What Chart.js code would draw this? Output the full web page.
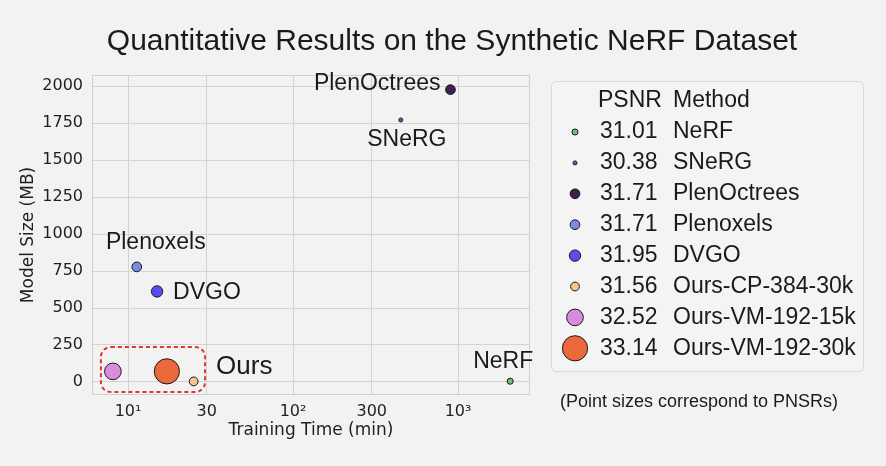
<!DOCTYPE html>
<html>
<head>
<meta charset="utf-8">
<script src="https://cdn.jsdelivr.net/npm/chart.js@4.4.1/dist/chart.umd.min.js"></script>
<style>
  html, body { margin: 0; padding: 0; background: #f2f2f2; }
</style>
</head>
<body>
<canvas id="myChart" width="886" height="466"></canvas>
<script>
// data
const methods = ['NeRF', 'SNeRG', 'PlenOctrees', 'Plenoxels', 'DVGO', 'Ours-CP-384-30k', 'Ours-VM-192-15k', 'Ours-VM-192-30k'];
const trainTime = [2070, 450, 900, 11.3, 15, 25, 8.1, 17.2];   // minutes
const modelSize = [5, 1771, 1976, 778, 612, 3.9, 71.8, 71.8];   // MB
const psnr = [31.01, 30.38, 31.71, 31.71, 31.95, 31.56, 32.52, 33.14];
const xTicks = [10, 30, 100, 300, 1000];
const xTickLabels = ['10¹', '30', '10²', '300', '10³'];
const yTicks = [0, 250, 500, 750, 1000, 1250, 1500, 1750, 2000];

const colors = ['#6cc07c', '#7b52ae', '#3f1f4e', '#7b8be4', '#5b4cf0', '#f7c48f', '#d98bdc', '#eb6a3d'];
const radiusFor = p => 2 * Math.exp(0.667 * (p - 30.38));   // point sizes follow PSNR
const sansFont = "'Liberation Sans', Arial, sans-serif";
const textColor = '#1a1a1a';

// text placement next to each point (pixel offsets)
const labelOffsets = {
  'Plenoxels':   { dx: 19, dy: -24, align: 'center' },
  'DVGO':        { dx: 16, dy: 1, align: 'left' },
  'PlenOctrees': { dx: -10, dy: -6, align: 'right' },
  'SNeRG':       { dx: 6, dy: 20, align: 'center' },
  'NeRF':        { dx: -7, dy: -20, align: 'center' }
};
const oursBox = { xMin: 6.85, xMax: 29.3, yMin: -68, yMax: 236 };

function roundRect(ctx, x, y, w, h, r) {
  ctx.beginPath();
  ctx.moveTo(x + r, y);
  ctx.lineTo(x + w - r, y);
  ctx.arcTo(x + w, y, x + w, y + r, r);
  ctx.lineTo(x + w, y + h - r);
  ctx.arcTo(x + w, y + h, x + w - r, y + h, r);
  ctx.lineTo(x + r, y + h);
  ctx.arcTo(x, y + h, x, y + h - r, r);
  ctx.lineTo(x, y + r);
  ctx.arcTo(x, y, x + r, y, r);
  ctx.closePath();
}

const extras = {
  id: 'extras',
  beforeDraw(chart) {
    const ctx = chart.ctx;
    ctx.save();
    ctx.fillStyle = '#f2f2f2';
    ctx.fillRect(0, 0, chart.width, chart.height);
    ctx.restore();
  },
  beforeDatasetsDraw(chart) {
    const { ctx, chartArea: a, scales: { x, y } } = chart;
    ctx.save();
    ctx.strokeStyle = '#d0d0d0';
    ctx.lineWidth = 1;
    ctx.strokeRect(a.left + 0.5, a.top + 0.5, a.width - 1, a.height - 1);
    // dashed box round our methods
    const bx0 = x.getPixelForValue(oursBox.xMin), bx1 = x.getPixelForValue(oursBox.xMax);
    const by0 = y.getPixelForValue(oursBox.yMax), by1 = y.getPixelForValue(oursBox.yMin);
    ctx.strokeStyle = '#e0352f';
    ctx.lineWidth = 2;
    ctx.setLineDash([4, 3]);
    roundRect(ctx, bx0, by0, bx1 - bx0, by1 - by0, 10);
    ctx.stroke();
    ctx.restore();
  },
  afterDraw(chart) {
    const { ctx, scales: { x, y } } = chart;
    ctx.save();
    ctx.fillStyle = textColor;
    ctx.textBaseline = 'middle';

    // title
    ctx.font = '30px ' + sansFont;
    ctx.textAlign = 'center';
    ctx.fillText('Quantitative Results on the Synthetic NeRF Dataset', 452, 42);

    // point labels
    ctx.font = '23px ' + sansFont;
    methods.forEach((m, i) => {
      const o = labelOffsets[m];
      if (!o) return;
      ctx.textAlign = o.align;
      ctx.fillText(m, x.getPixelForValue(trainTime[i]) + o.dx, y.getPixelForValue(modelSize[i]) + o.dy);
    });
    const bx1 = x.getPixelForValue(oursBox.xMax);
    const byMid = (y.getPixelForValue(oursBox.yMax) + y.getPixelForValue(oursBox.yMin)) / 2;
    ctx.font = '26px ' + sansFont;
    ctx.textAlign = 'left';
    ctx.fillText('Ours', bx1 + 11, byMid - 3);

    // legend table
    ctx.fillStyle = '#f4f4f4';
    ctx.strokeStyle = '#d8d8d8';
    ctx.lineWidth = 1;
    roundRect(ctx, 551.5, 81.5, 312, 290, 5);
    ctx.fill();
    ctx.stroke();
    ctx.fillStyle = textColor;
    ctx.font = '23px ' + sansFont;
    ctx.textAlign = 'left';
    ctx.fillText('PSNR', 598, 101);
    ctx.fillText('Method', 673, 101);
    methods.forEach((m, i) => {
      const ry = 132 + 30.9 * i;
      ctx.beginPath();
      ctx.arc(575, ry, radiusFor(psnr[i]), 0, Math.PI * 2);
      ctx.fillStyle = colors[i];
      ctx.fill();
      ctx.strokeStyle = '#1a1a1a';
      ctx.lineWidth = 1;
      ctx.stroke();
      ctx.fillStyle = textColor;
      ctx.fillText(psnr[i].toFixed(2), 600, ry);
      ctx.fillText(m, 673, ry);
    });

    // caption
    ctx.font = '18px ' + sansFont;
    ctx.textAlign = 'center';
    ctx.fillText('(Point sizes correspond to PNSRs)', 699, 402);
    ctx.restore();
  }
};

const ctx = document.getElementById('myChart').getContext('2d');
const myChart = new Chart(ctx, {
  type: 'scatter',
  data: {
    datasets: [{
      data: trainTime.map((t, i) => ({ x: t, y: modelSize[i] })),
      backgroundColor: colors,
      borderColor: '#1a1a1a',
      borderWidth: 1,
      pointRadius: psnr.map(radiusFor),
      pointHoverRadius: psnr.map(radiusFor)
    }]
  },
  options: {
    responsive: false,
    animation: false,
    events: [],
    layout: { padding: { left: 0, right: 356, top: 75, bottom: 0 } },
    plugins: { legend: { display: false }, tooltip: { enabled: false } },
    scales: {
      x: {
        type: 'logarithmic',
        min: 6.05,
        max: 2730,
        afterBuildTicks: axis => { axis.ticks = xTicks.map(v => ({ value: v })); },
        afterFit: axis => { axis.height = 71; },
        ticks: {
          autoSkip: false,
          maxRotation: 0,
          padding: 7,
          color: '#1f1f1f',
          font: { family: 'DejaVu Sans', size: 16 },
          callback: (v) => xTickLabels[xTicks.indexOf(v)]
        },
        grid: { color: '#d3d3d3', drawTicks: false },
        border: { display: false },
        title: {
          display: true,
          text: 'Training Time (min)',
          color: '#1f1f1f',
          font: { family: 'DejaVu Sans', size: 17 },
          padding: { top: 0, bottom: 25 }
        }
      },
      y: {
        min: -88,
        max: 2075,
        afterBuildTicks: axis => { axis.ticks = yTicks.map(v => ({ value: v })); },
        afterFit: axis => { axis.width = 92; },
        ticks: {
          padding: 9,
          color: '#1f1f1f',
          font: { family: 'DejaVu Sans', size: 16 },
          callback: (v) => String(v)
        },
        grid: { color: '#d3d3d3', drawTicks: false },
        border: { display: false },
        title: {
          display: true,
          text: 'Model Size (MB)',
          color: '#1f1f1f',
          font: { family: 'DejaVu Sans', size: 17 },
          padding: { top: 18, bottom: 0 }
        }
      }
    }
  },
  plugins: [extras]
});
</script>
</body>
</html>
